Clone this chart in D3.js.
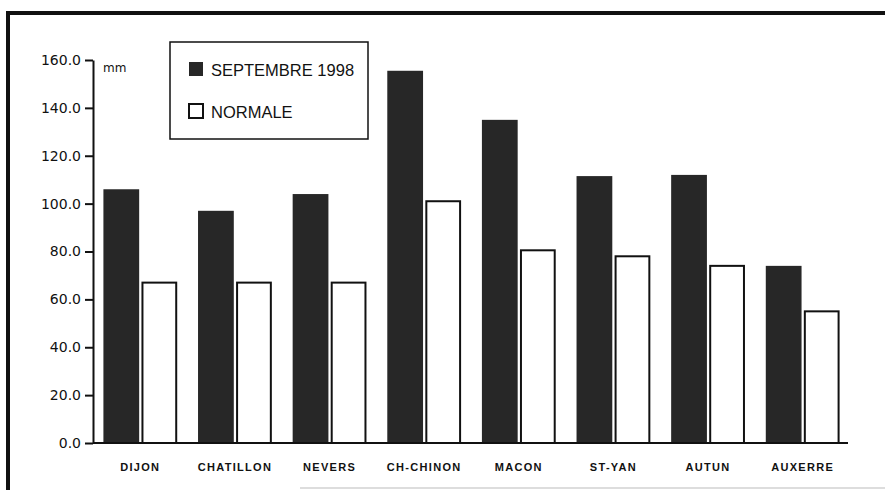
<!DOCTYPE html>
<meta charset="utf-8">
<style>
  body {
    margin: 0;
    background: #fff;
    font-family: "Liberation Sans", Arial, sans-serif;
  }
  .axis path, .axis line {
    stroke: #111;
    stroke-width: 2;
  }
  .axis text {
    font-family: "DejaVu Sans", sans-serif;
    font-size: 14px;
    fill: #111;
  }
  .xlab {
    font-size: 11px;
    font-weight: bold;
    letter-spacing: 1.3px;
    fill: #111;
  }
</style>
<body>
<div id="chart"></div>
<script src="https://cdn.jsdelivr.net/npm/d3@7"></script>
<script>

  var stations = ["DIJON", "CHATILLON", "NEVERS", "CH-CHINON", "MACON", "ST-YAN", "AUTUN", "AUXERRE"],
      sept1998 = [106, 97, 104, 155.5, 135, 111.5, 112, 74],
      normale = [67, 67, 67, 101, 80.5, 78, 74, 55],
      yTicks = [0, 20, 40, 60, 80, 100, 120, 140, 160],
      seriesNames = ["SEPTEMBRE 1998", "NORMALE"];

  var width = 885,
      height = 490,
      margin = {top: 60, right: 35, bottom: 47, left: 93},
      innerW = width - margin.left - margin.right,
      innerH = height - margin.top - margin.bottom;

  var svg = d3.select("#chart").append("svg")
      .attr("width", width)
      .attr("height", height);

  // frame
  svg.append("line")
      .attr("x1", 6).attr("x2", 885).attr("y1", 13).attr("y2", 13)
      .attr("stroke", "#111").attr("stroke-width", 4);
  svg.append("line")
      .attr("x1", 8).attr("x2", 8).attr("y1", 11).attr("y2", 490)
      .attr("stroke", "#111").attr("stroke-width", 4);
  svg.append("line")
      .attr("x1", 300).attr("x2", 885).attr("y1", 488).attr("y2", 488)
      .attr("stroke", "#bbb").attr("stroke-width", 1);

  var g = svg.append("g")
      .attr("transform", "translate(" + margin.left + "," + margin.top + ")");

  var x0 = d3.scaleBand()
      .domain(stations)
      .range([0, innerW])
      .paddingInner(0.22)
      .paddingOuter(0.11);

  var x1 = d3.scaleBand()
      .domain(seriesNames)
      .range([0, x0.bandwidth()])
      .paddingInner(0.06);

  var y = d3.scaleLinear()
      .domain([0, 160])
      .range([innerH, 0]);

  var groups = g.selectAll("g.grp")
      .data(stations)
    .enter().append("g")
      .attr("class", "grp")
      .attr("transform", function(d) { return "translate(" + x0(d) + ",0)"; });

  groups.append("rect")
      .attr("x", x1(seriesNames[0]))
      .attr("width", x1.bandwidth())
      .attr("y", function(d, i) { return y(sept1998[i]); })
      .attr("height", function(d, i) { return innerH - y(sept1998[i]); })
      .attr("fill", "#272727");

  groups.append("rect")
      .attr("x", x1(seriesNames[1]) + 1)
      .attr("width", x1.bandwidth() - 2)
      .attr("y", function(d, i) { return y(normale[i]); })
      .attr("height", function(d, i) { return innerH - y(normale[i]); })
      .attr("fill", "#fff")
      .attr("stroke", "#111")
      .attr("stroke-width", 2);

  // baseline
  g.append("line")
      .attr("x1", 0).attr("x2", innerW - 2)
      .attr("y1", innerH).attr("y2", innerH)
      .attr("stroke", "#111").attr("stroke-width", 2);

  g.append("g")
      .attr("class", "axis")
      .call(d3.axisLeft(y)
        .tickValues(yTicks)
        .tickFormat(d3.format(".1f"))
        .tickSize(8)
        .tickSizeOuter(0)
        .tickPadding(4));

  g.selectAll("text.xlab")
      .data(stations)
    .enter().append("text")
      .attr("class", "xlab")
      .attr("x", function(d) { return x0(d) + x0.bandwidth() / 2; })
      .attr("y", innerH + 28)
      .attr("text-anchor", "middle")
      .text(function(d) { return d; });

  g.append("text")
      .attr("x", 10)
      .attr("y", 12)
      .attr("font-family", "DejaVu Sans, sans-serif")
      .attr("font-size", "12px")
      .attr("fill", "#111")
      .text("mm");

  // legend
  var leg = svg.append("g").attr("transform", "translate(170,42)");
  leg.append("rect")
      .attr("width", 198).attr("height", 97)
      .attr("fill", "#fff").attr("stroke", "#111").attr("stroke-width", 1.5);

  var items = leg.selectAll("g.item")
      .data(seriesNames)
    .enter().append("g")
      .attr("class", "item")
      .attr("transform", function(d, i) { return "translate(19," + (20 + i * 42) + ")"; });

  items.append("rect")
      .attr("width", 14).attr("height", 14)
      .attr("fill", function(d, i) { return i === 0 ? "#272727" : "#fff"; })
      .attr("stroke", "#111")
      .attr("stroke-width", function(d, i) { return i === 0 ? 0 : 2; });

  items.append("text")
      .attr("x", 22)
      .attr("y", 14)
      .attr("font-size", "16.5px")
      .attr("fill", "#111")
      .text(function(d) { return d; });

</script>
</body>
